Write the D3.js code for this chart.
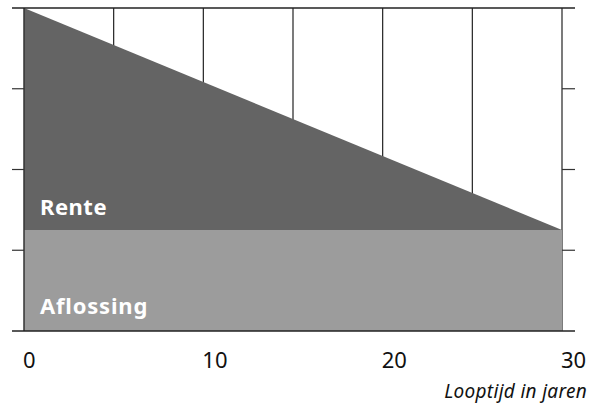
<!DOCTYPE html>
<html>
<head>
<meta charset="utf-8">
<script src="https://cdn.jsdelivr.net/npm/d3@7"></script>
<style>
  body { margin: 0; background: #fff; }
  svg { display: block; font-family: "Noto Sans", "Open Sans", sans-serif; }
</style>
</head>
<body>
<svg id="chart" width="600" height="405"></svg>
<script>
const years = [0, 30];
const aflossing = [1.25, 1.25];
const rente = [2.75, 0];
const gridYears = [5, 10, 15, 20, 25, 30];
const xLabels = [0, 10, 20, 30];
const yTicks = [1, 2, 3];

const width = 600, height = 405;
const svg = d3.select('#chart');

const x = d3.scaleLinear().domain([0, 30]).range([24, 562]);
const y = d3.scaleLinear().domain([0, 4]).range([331, 8]);

const data = years.map((yr, i) => ({ yr, aflossing: aflossing[i], rente: rente[i] }));
const stack = d3.stack().keys(['aflossing', 'rente'])(data);
const colors = { aflossing: '#9c9c9c', rente: '#646464' };

// vertical grid lines
svg.append('g')
  .selectAll('line')
  .data(gridYears)
  .enter().append('line')
  .attr('x1', d => x(d)).attr('x2', d => x(d))
  .attr('y1', y(4)).attr('y2', y(0))
  .style('stroke', '#222')
  .style('stroke-width', 1.2);

const area = d3.area()
  .x(d => x(d.data.yr))
  .y0(d => y(d[0]))
  .y1(d => y(d[1]));

svg.append('g')
  .selectAll('path')
  .data(stack)
  .enter().append('path')
  .attr('d', area)
  .style('fill', d => colors[d.key]);

// left axis line
svg.append('line')
  .attr('x1', x(0)).attr('x2', x(0))
  .attr('y1', y(4)).attr('y2', y(0))
  .style('stroke', '#333')
  .style('stroke-width', 1.5);

// top and bottom lines
svg.append('g')
  .selectAll('line')
  .data([0, 4])
  .enter().append('line')
  .attr('x1', 12).attr('x2', 575)
  .attr('y1', d => y(d)).attr('y2', d => y(d))
  .style('stroke', '#222')
  .style('stroke-width', 1.5);

// y ticks on both sides
const ticks = svg.append('g');
ticks.selectAll('.tl')
  .data(yTicks)
  .enter().append('line')
  .attr('class', 'tl')
  .attr('x1', 12).attr('x2', x(0))
  .attr('y1', d => y(d)).attr('y2', d => y(d))
  .style('stroke', '#333').style('stroke-width', 1.2);
ticks.selectAll('.tr')
  .data(yTicks)
  .enter().append('line')
  .attr('class', 'tr')
  .attr('x1', x(30)).attr('x2', 575)
  .attr('y1', d => y(d)).attr('y2', d => y(d))
  .style('stroke', '#333').style('stroke-width', 1.2);

// x labels
svg.append('g')
  .selectAll('text')
  .data(xLabels)
  .enter().append('text')
  .attr('x', d => x(d) - 1)
  .attr('y', 368)
  .style('font-size', '22px')
  .style('fill', '#111')
  .text(d => d);

svg.append('text')
  .attr('x', 587)
  .attr('y', 398)
  .attr('text-anchor', 'end')
  .style('font-size', '19px')
  .style('letter-spacing', '0.3px')
  .style('font-style', 'italic')
  .style('fill', '#111')
  .text('Looptijd in jaren');

// series labels
svg.append('text')
  .attr('x', 40).attr('y', 215)
  .style('font-size', '22px').style('font-weight', 'bold')
  .style('letter-spacing', '0.5px')
  .style('fill', '#fff')
  .text('Rente');

svg.append('text')
  .attr('x', 40).attr('y', 314)
  .style('font-size', '22px').style('font-weight', 'bold')
  .style('letter-spacing', '0.8px')
  .style('fill', '#fff')
  .text('Aflossing');
</script>
</body>
</html>
